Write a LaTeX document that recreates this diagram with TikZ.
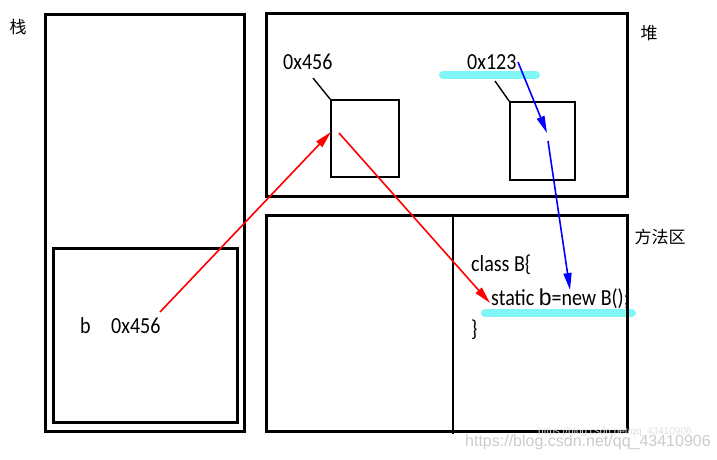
\documentclass[tikz,border=0pt]{standalone}
\usepackage{fontspec}
\setmainfont{Carlito}[FakeStretch=0.87]
\newfontfamily\cjk{Noto Sans CJK SC}
\newfontfamily\wm{Liberation Sans}
\usetikzlibrary{arrows.meta}
\definecolor{hl}{RGB}{128,246,246}
\definecolor{redarr}{RGB}{255,0,0}
\definecolor{bluearr}{RGB}{0,0,255}
\tikzset{
  bigbox/.style={draw=black, line width=3pt, inner sep=0pt, rectangle},
  smallbox/.style={draw=black, line width=1.6pt, inner sep=0pt, rectangle},
  txt/.style={anchor=base west, inner sep=0pt, font=\fontsize{23}{27}\selectfont},
  cjklabel/.style={anchor=center, inner sep=0pt, font=\cjk\fontsize{17}{19}\selectfont},
  highlight/.style={draw=hl, line width=8pt, line cap=round},
  leader/.style={draw=black, line width=1.4pt},
  redptr/.style={draw=redarr, line width=1.6pt, -{Triangle[length=17pt,width=8pt]}},
  blueptr/.style={draw=bluearr, line width=1.6pt, -{Triangle[length=17pt,width=8pt]}},
  watermark/.style={anchor=base west, inner sep=0pt, text=black!20, font=\wm\fontsize{16}{18}\selectfont}
}
\begin{document}
\begin{tikzpicture}[x=1pt,y=-1pt]
\useasboundingbox[fill=white] (0,0) rectangle (717,459);
% highlights (drawn under)
\draw[highlight] (443,75) -- (536,75);
\draw[highlight] (485,313) -- (632,313);
% stack
\node[bigbox, minimum width=199pt, minimum height=417pt] (stack) at (144.5,222.5) {};
\node[bigbox, minimum width=184pt, minimum height=174pt] (frame) at (145,335) {};
\node[cjklabel] (lstack) at (18,27) {栈};
% heap
\node[bigbox, minimum width=361pt, minimum height=183pt] (heap) at (446.5,104.5) {};
\node[cjklabel] (lheap) at (649,33) {堆};
\node[smallbox, minimum width=68pt, minimum height=77pt] (objA) at (365,138.5) {};
\node[smallbox, minimum width=65pt, minimum height=78pt] (objB) at (542.5,141) {};
\node[txt] (addrA) at (283,69) {0x456};
\node[txt] (addrB) at (467,69) {0x123};
\coordinate (la1) at (313,78);
\coordinate (lb1) at (495,81);
\draw[leader] (la1) -- (objA.north west);
\draw[leader] (lb1) -- (objB.north west);
% method area
\node[bigbox, minimum width=361pt, minimum height=216pt] (method) at (446.5,323) {};
\coordinate (divtop) at (453,215);
\coordinate (divbot) at (453,434);
\draw[draw=black, line width=2pt] (divtop) -- (divbot);
\node[cjklabel] (lmethod) at (660,237) {方法区};
\node[txt] (cls) at (471,271) {class B\{};
\node[txt] (stat) at (491,305) {static {\wm\fontsize{23}{27}\selectfont b}=new B();};
\node[txt] (close) at (471,336) {\}};
% stack variable
\node[txt] (bvar) at (80,333) {b};
\node[txt] (bval) at (111,333) {0x456};
% pointers
\coordinate (r1s) at (160,312);
\coordinate (r1e) at (331,132);
\coordinate (r2s) at (339,133);
\coordinate (r2e) at (490,303);
\draw[redptr] (r1s) -- (r1e);
\draw[redptr] (r2s) -- (r2e);
\coordinate (b1s) at (518,62);
\coordinate (b1e) at (547,133);
\coordinate (b2s) at (548,141);
\coordinate (b2e) at (570,290);
\draw[blueptr] (b1s) -- (b1e);
\draw[blueptr] (b2s) -- (b2e);
% watermark
\node[watermark] (wm1) at (465,446) {https://blog.csdn.net/qq\_43410906};
\node[watermark, text=black!12, font=\wm\fontsize{10}{12}\selectfont] (wm2) at (538,434) {https://blog.csdn.net/qq\_43410906};
\end{tikzpicture}
\end{document}
